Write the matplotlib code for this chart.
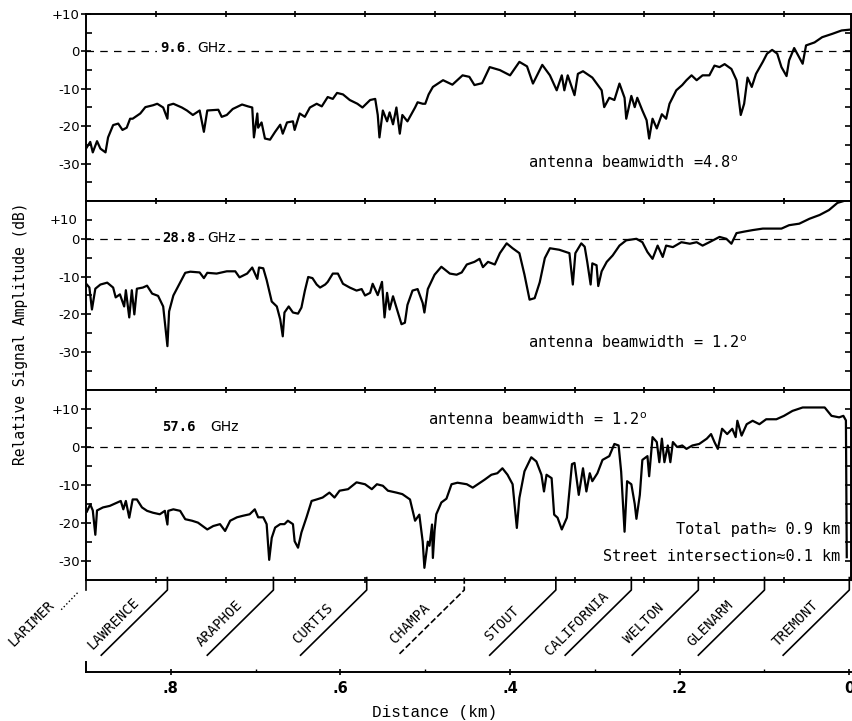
import numpy as np
import matplotlib
matplotlib.use('Agg')
from matplotlib import pyplot as plt

# distance from receiver (km) and relative amplitude (dB), 9.6 GHz run
d96 = [0.900, 0.895, 0.892, 0.887, 0.883, 0.877, 0.874, 0.868, 0.862, 0.857,
       0.852, 0.848, 0.845, 0.836, 0.830, 0.821, 0.816, 0.809, 0.804, 0.803,
       0.797, 0.787, 0.781, 0.774, 0.766, 0.761, 0.757, 0.744, 0.740, 0.734,
       0.727, 0.716, 0.709, 0.704, 0.702, 0.698, 0.697, 0.693, 0.689, 0.683,
       0.677, 0.671, 0.668, 0.663, 0.656, 0.654, 0.648, 0.642, 0.636, 0.628,
       0.622, 0.615, 0.609, 0.604, 0.597, 0.589, 0.580, 0.574, 0.565, 0.559,
       0.556, 0.554, 0.550, 0.545, 0.542, 0.538, 0.534, 0.530, 0.527, 0.521,
       0.512, 0.509, 0.503, 0.500, 0.496, 0.491, 0.479, 0.468, 0.456, 0.448,
       0.442, 0.433, 0.424, 0.412, 0.400, 0.389, 0.380, 0.373, 0.362, 0.353,
       0.345, 0.339, 0.336, 0.332, 0.324, 0.320, 0.314, 0.303, 0.292, 0.289,
       0.283, 0.277, 0.271, 0.265, 0.263, 0.257, 0.253, 0.250, 0.244, 0.239,
       0.236, 0.232, 0.227, 0.221, 0.216, 0.212, 0.204, 0.197, 0.192, 0.186,
       0.180, 0.173, 0.165, 0.159, 0.153, 0.147, 0.139, 0.133, 0.128, 0.124,
       0.120, 0.115, 0.110, 0.102, 0.097, 0.091, 0.085, 0.080, 0.074, 0.071,
       0.065, 0.061, 0.055, 0.051, 0.041, 0.032, 0.020, 0.009, 0.000]
a96 = [-26.0, -24.2, -27.0, -24.0, -26.0, -27.0, -23.0, -19.7, -19.3, -21.0,
       -20.4, -18.0, -18.0, -16.6, -14.9, -14.4, -14.0, -15.0, -18.0, -14.4,
       -14.0, -15.0, -15.8, -17.0, -15.8, -21.5, -15.8, -15.6, -17.5, -17.0,
       -15.4, -14.2, -14.7, -15.0, -23.0, -16.6, -20.4, -19.0, -23.3, -23.6,
       -21.5, -19.6, -22.0, -19.0, -18.7, -21.0, -16.6, -17.5, -15.0, -14.0,
       -14.7, -12.2, -12.7, -11.1, -11.5, -13.0, -14.0, -15.0, -13.0, -12.7,
       -17.0, -23.0, -15.8, -18.7, -16.3, -19.5, -15.0, -22.0, -17.0, -18.7,
       -15.0, -13.6, -14.0, -14.0, -11.5, -9.5, -7.7, -8.9, -6.4, -6.8,
       -9.0, -8.5, -4.2, -5.0, -6.4, -2.8, -4.0, -8.6, -3.6, -6.4,
       -10.4, -6.4, -10.4, -6.4, -11.7, -6.0, -5.3, -7.0, -10.4, -14.9,
       -12.4, -13.0, -8.6, -12.4, -18.0, -11.9, -14.9, -12.4, -15.8, -18.4,
       -23.3, -18.0, -20.6, -16.8, -18.0, -14.0, -10.4, -9.0, -7.7, -6.4,
       -7.7, -6.4, -6.4, -3.8, -4.2, -3.4, -4.7, -7.7, -17.0, -14.0,
       -7.0, -9.5, -6.0, -2.8, -0.6, 0.4, -0.6, -4.2, -6.6, -2.4,
       0.9, -0.8, -3.3, 1.6, 2.4, 3.8, 4.7, 5.6, 5.8]

# 28.8 GHz run
d288 = [0.899, 0.896, 0.893, 0.889, 0.883, 0.875, 0.868, 0.865, 0.860, 0.855,
        0.853, 0.849, 0.846, 0.843, 0.840, 0.833, 0.828, 0.822, 0.815, 0.809,
        0.804, 0.802, 0.797, 0.789, 0.783, 0.777, 0.766, 0.761, 0.757, 0.746,
        0.734, 0.724, 0.719, 0.710, 0.704, 0.698, 0.696, 0.691, 0.687, 0.681,
        0.675, 0.671, 0.668, 0.666, 0.661, 0.656, 0.650, 0.646, 0.642, 0.638,
        0.633, 0.628, 0.624, 0.618, 0.615, 0.609, 0.603, 0.597, 0.589, 0.581,
        0.575, 0.571, 0.565, 0.562, 0.556, 0.551, 0.548, 0.545, 0.542, 0.538,
        0.534, 0.528, 0.524, 0.521, 0.515, 0.509, 0.503, 0.501, 0.497, 0.489,
        0.481, 0.471, 0.463, 0.457, 0.451, 0.442, 0.436, 0.432, 0.426, 0.418,
        0.412, 0.404, 0.397, 0.389, 0.383, 0.377, 0.371, 0.365, 0.359, 0.353,
        0.342, 0.330, 0.326, 0.323, 0.316, 0.312, 0.309, 0.305, 0.303, 0.298,
        0.296, 0.292, 0.286, 0.279, 0.271, 0.263, 0.251, 0.244, 0.238, 0.232,
        0.226, 0.220, 0.216, 0.208, 0.198, 0.188, 0.180, 0.173, 0.165, 0.153,
        0.145, 0.139, 0.133, 0.124, 0.114, 0.102, 0.091, 0.080, 0.071, 0.059,
        0.047, 0.035, 0.024, 0.014, 0.002]
a288 = [-12.1, -12.9, -18.7, -13.2, -12.1, -11.6, -12.9, -15.5, -14.7, -17.9,
        -13.6, -20.8, -13.6, -20.0, -13.2, -12.9, -12.4, -14.5, -15.1, -17.9,
        -28.4, -19.2, -15.0, -11.6, -9.0, -8.7, -8.9, -10.4, -9.0, -9.2,
        -8.6, -8.6, -10.2, -9.2, -7.6, -10.6, -7.6, -7.8, -10.9, -16.6,
        -17.9, -21.3, -25.8, -19.5, -17.9, -19.5, -19.8, -18.2, -13.8, -10.1,
        -10.4, -12.1, -12.9, -12.1, -11.4, -9.2, -9.2, -11.9, -12.9, -13.7,
        -13.3, -15.0, -14.3, -11.9, -14.9, -11.4, -20.8, -14.3, -18.7, -15.2,
        -18.2, -22.6, -22.2, -17.5, -13.7, -13.3, -17.0, -19.5, -13.3, -9.5,
        -7.4, -9.2, -9.5, -8.9, -6.8, -6.1, -5.3, -7.5, -6.1, -6.8,
        -3.8, -1.2, -2.5, -3.8, -9.5, -16.1, -15.7, -11.5, -5.1, -2.5,
        -2.9, -3.8, -12.1, -3.8, -1.2, -2.1, -6.1, -12.1, -6.5, -7.0,
        -12.5, -8.6, -6.1, -4.4, -1.8, -0.4, 0.0, -0.9, -3.5, -5.3,
        -1.8, -4.8, -1.8, -2.2, -0.9, -1.3, -0.9, -1.8, -0.9, 0.5,
        0.0, -1.3, 1.5, 1.9, 2.3, 2.7, 2.7, 2.7, 3.6, 4.0,
        5.3, 6.3, 7.6, 9.5, 10.3]

# 57.6 GHz run
d576 = [0.899, 0.895, 0.892, 0.889, 0.887, 0.880, 0.872, 0.863, 0.859, 0.856,
        0.853, 0.849, 0.845, 0.840, 0.834, 0.828, 0.821, 0.813, 0.807, 0.804,
        0.803, 0.797, 0.789, 0.783, 0.775, 0.768, 0.757, 0.750, 0.742, 0.736,
        0.730, 0.722, 0.715, 0.707, 0.701, 0.697, 0.691, 0.687, 0.684, 0.681,
        0.677, 0.671, 0.666, 0.662, 0.656, 0.654, 0.650, 0.646, 0.640, 0.634,
        0.628, 0.621, 0.613, 0.607, 0.601, 0.591, 0.581, 0.571, 0.563, 0.557,
        0.550, 0.544, 0.534, 0.527, 0.518, 0.512, 0.507, 0.503, 0.501, 0.497,
        0.495, 0.492, 0.491, 0.489, 0.487, 0.481, 0.475, 0.469, 0.462, 0.451,
        0.444, 0.438, 0.430, 0.422, 0.415, 0.409, 0.403, 0.397, 0.392, 0.389,
        0.383, 0.375, 0.369, 0.363, 0.360, 0.357, 0.351, 0.348, 0.344, 0.339,
        0.333, 0.327, 0.324, 0.319, 0.314, 0.310, 0.306, 0.303, 0.297, 0.291,
        0.283, 0.277, 0.272, 0.269, 0.265, 0.262, 0.257, 0.253, 0.251, 0.247,
        0.244, 0.238, 0.236, 0.232, 0.227, 0.224, 0.221, 0.218, 0.214, 0.211,
        0.208, 0.203, 0.197, 0.192, 0.185, 0.177, 0.168, 0.163, 0.159, 0.155,
        0.150, 0.144, 0.138, 0.134, 0.132, 0.127, 0.121, 0.114, 0.106, 0.098,
        0.086, 0.077, 0.067, 0.055, 0.044, 0.029, 0.021, 0.012, 0.007, 0.004,
        0.003]
a576 = [-17.0, -15.1, -16.7, -23.1, -16.7, -15.9, -15.5, -14.6, -14.2, -16.4,
        -14.2, -18.6, -13.8, -13.8, -15.9, -16.8, -17.3, -17.7, -16.8, -20.4,
        -16.8, -16.4, -16.8, -19.0, -19.4, -19.9, -21.7, -20.8, -20.3, -22.1,
        -19.4, -18.5, -18.1, -17.7, -16.4, -18.5, -18.5, -20.3, -29.7, -23.9,
        -21.2, -20.3, -20.3, -19.4, -20.3, -24.8, -26.5, -22.5, -18.5, -14.2,
        -13.8, -13.3, -12.0, -13.3, -11.5, -11.1, -9.3, -9.8, -11.1, -9.8,
        -10.2, -11.5, -12.0, -12.4, -13.8, -19.4, -17.8, -24.9, -31.8, -24.9,
        -26.0, -20.4, -29.2, -22.0, -17.7, -14.6, -13.6, -9.8, -9.4, -9.8,
        -10.7, -9.8, -8.6, -7.3, -6.9, -5.6, -7.3, -9.8, -21.3, -13.4,
        -6.4, -2.7, -3.8, -7.3, -11.7, -7.3, -8.2, -17.8, -18.6, -21.7,
        -18.6, -4.5, -4.2, -12.6, -5.6, -11.7, -6.9, -9.0, -6.9, -3.4,
        -2.4, 0.8, 0.4, -6.5, -22.3, -9.0, -9.8, -15.0, -18.9, -12.6,
        -3.4, -2.4, -7.7, 2.6, 1.3, -4.0, 2.2, -4.0, 0.4, -4.0,
        1.3, 0.0, 0.4, -0.5, 0.4, 0.8, 2.2, 3.4, 1.3, -0.5,
        4.8, 3.4, 4.8, 2.6, 6.9, 3.0, 6.0, 6.9, 6.0, 7.3,
        7.3, 8.2, 9.5, 10.4, 10.4, 10.4, 8.2, 7.8, 8.2, 7.0,
        -29.0]

freqs = ['9.6', '28.8', '57.6']
beams = ['=4.8', '= 1.2', '= 1.2']
ylims = [(-40, 10), (-40, 10), (-35, 15)]

streets = ['LARIMER', 'LAWRENCE', 'ARAPHOE', 'CURTIS', 'CHAMPA', 'STOUT',
           'CALIFORNIA', 'WELTON', 'GLENARM', 'TREMONT']
street_km = [0.900, 0.804, 0.679, 0.569, 0.454, 0.346, 0.257, 0.178, 0.100, 0.0]
street_ls = [':', '-', '-', '-', '--', '-', '-', '-', '-', '-']

dist_ticks = [0.8, 0.6, 0.4, 0.2, 0.0]
dist_labels = ['.8', '.6', '.4', '.2', '0']

mono = 'DejaVu Sans Mono'
plt.rcParams['font.family'] = 'DejaVu Sans'

fig = plt.figure(figsize=(8.53, 7.21), dpi=100)
H = 721.0
L, W = 86 / 853, 765 / 853
def fy(p):
    return 1 - p / H

# chart-recorder marks along the top and bottom of each strip
rec = 0.9 - 0.0823 * np.arange(1, 11)

spans = [(14, 201), (201, 390), (390, 580)]
traces = [(d96, a96), (d288, a288), (d576, a576)]
# where the band label sits: (km of number, km of "GHz", dB)
flabel = [(0.813, 0.769, 1.0), (0.810, 0.757, 0.3), (0.810, 0.754, 5.3)]
# beamwidth note: (km, dB)
blabel = [(0.379, -29.7), (0.379, -27.5), (0.497, 7.1)]

axes = []
for i, (top, bot) in enumerate(spans):
    ax = fig.add_axes([L, fy(bot), W, (bot - top) / H])
    d, a = traces[i]
    ax.plot(d, a, color='black', lw=1.6, solid_joinstyle='round')
    ax.axhline(0, color='black', lw=0.9, ls=(0, (6, 5)), zorder=1)
    ax.set_xlim(0.9, -0.002)
    ax.set_ylim(*ylims[i])
    for s in ax.spines.values():
        s.set_linewidth(1.4)
    ax.set_xticks(rec)
    ax.tick_params(axis='x', top=True, bottom=True, direction='inout', length=5,
                   width=1.2, labelbottom=False)
    lo, hi = ylims[i]
    majors = [v for v in (10, 0, -10, -20, -30) if lo <= v <= hi]
    if i == 1:
        majors = [0, -10, -20, -30]
    ax.set_yticks(majors)
    ax.set_yticklabels([('+%d' % v) if v > 0 else str(v) for v in majors])
    ax.set_yticks([v for v in range(-35, 15, 10) if lo < v < hi], minor=True)
    ax.tick_params(axis='y', which='major', direction='inout', length=7,
                   width=1.2, labelsize=9.5, pad=1)
    ax.tick_params(axis='y', which='minor', direction='in', length=4, width=1.2)
    sec = ax.secondary_yaxis('right')
    sec.set_yticks(list(range(lo + 5, hi, 5)))
    sec.tick_params(direction='in', length=4, width=1.2, labelright=False)

    nx, gx, gy = flabel[i]
    ax.text(nx, gy, freqs[i], family=mono, weight='bold', fontsize=10,
            va='center', ha='left', zorder=3,
            bbox=dict(fc='white', ec='none', pad=2))
    ax.text(gx, gy, 'GHz', fontsize=10, va='center', ha='left', zorder=3,
            bbox=dict(fc='white', ec='none', pad=2))

    bx, by = blabel[i]
    ax.text(bx, by, 'antenna beamwidth ' + beams[i] + r'$^{\mathsf{o}}$',
            family=mono, fontsize=11, va='center', ha='left')
    axes.append(ax)

# panel 2 carries its +10 label just inside the top edge
axes[1].annotate('+10', xy=(0, 10), xycoords=('axes fraction', 'data'),
                 xytext=(-6, -14), textcoords='offset points', ha='right',
                 va='center', fontsize=9.5)

axes[2].text(0.011, -21.8, 'Total path\u2248 0.9 km', family=mono, fontsize=11,
             ha='right', va='center')
axes[2].text(0.011, -28.7, 'Street intersection\u22480.1 km', family=mono,
             fontsize=11, ha='right', va='center')

# street intersections below the bottom strip
ax_s = fig.add_axes([L, fy(660), W, 80 / H])
ax_s.set_xlim(0.9, -0.002)
ax_s.set_ylim(0, 1)
ax_s.axis('off')
for name, km, ls in zip(streets, street_km, street_ls):
    if ls == ':':
        ax_s.plot([km, km], [1.03, 0.875], color='black', lw=1.2, clip_on=False)
        ax_s.plot([km + 0.01, km + 0.03], [0.84, 0.62], color='black', lw=1.0,
                  ls=':', clip_on=False)
    else:
        ax_s.plot([km, km, km + 0.078], [1.03, 0.875, 0.06], color='black',
                  lw=1.2, ls=ls, clip_on=False)
    ax_s.text(km + 0.064, 0.46, name, family=mono, fontsize=10, rotation=45,
              rotation_mode='anchor', ha='center', va='center', clip_on=False)

# distance scale
ax_d = fig.add_axes([L, fy(672), W, 10 / H])
ax_d.set_xlim(0.9, -0.002)
ax_d.set_ylim(0, 1)
for s in ['top', 'left', 'right']:
    ax_d.spines[s].set_visible(False)
ax_d.spines['bottom'].set_linewidth(1.4)
ax_d.set_yticks([])
ax_d.set_xticks(dist_ticks)
ax_d.set_xticklabels(dist_labels, fontweight='bold', fontsize=10.5)
ax_d.set_xticks([0.7, 0.5, 0.3, 0.1], minor=True)
ax_d.tick_params(axis='x', which='major', direction='inout', length=5, width=1.2, pad=4)
ax_d.tick_params(axis='x', which='minor', direction='in', length=2, width=1.0)
ax_d.plot([0.9, 0.9], [0, 1], color='black', lw=1.4, clip_on=False)

fig.text(0.51, fy(712), 'Distance (km)', family='Liberation Mono', fontsize=11.5,
         ha='center', va='center')
fig.text(0.024, fy(334), 'Relative Signal Amplitude (dB)', family=mono,
         fontsize=10.5, rotation=90, ha='center', va='center')

fig.savefig('out.png', dpi=100, facecolor='white')
